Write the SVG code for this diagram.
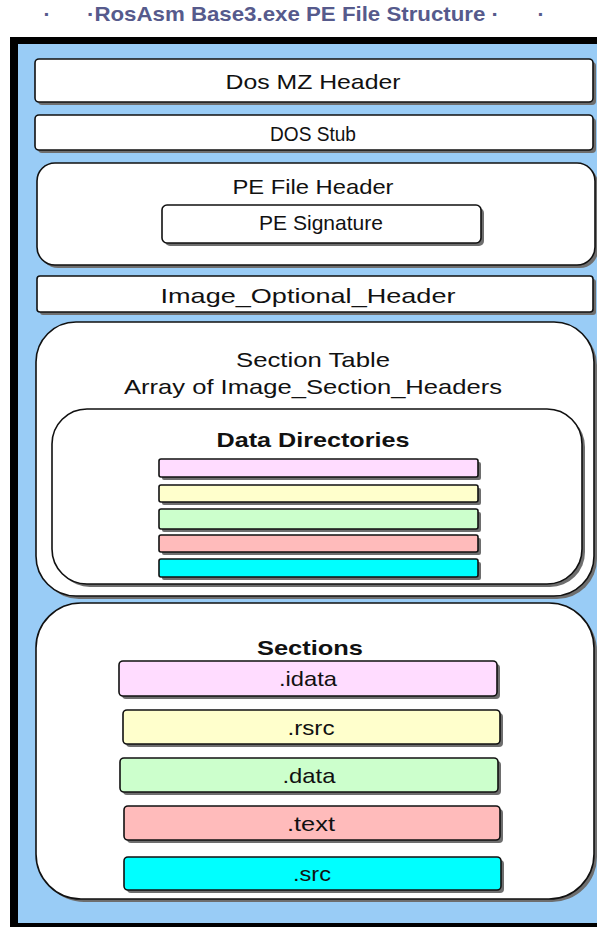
<svg xmlns="http://www.w3.org/2000/svg" width="597" height="927" viewBox="0 0 597 927">
<style>
.t{font-family:"Liberation Sans",Arial,sans-serif;font-size:21px;fill:#111;text-anchor:middle}
.b{font-weight:bold}
.box{fill:#fff;stroke:#111;stroke-width:1.6}
.sh{fill:#6e6e6e}
.bar{stroke:#111;stroke-width:1.6}
.ttl{font-family:"Liberation Sans",Arial,sans-serif;font-size:21px;font-weight:bold;fill:#565a8c;text-anchor:middle}
</style>
<rect width="597" height="927" fill="#fff"/>
<g id="title">
<text class="ttl" x="293" y="21" textLength="412" lengthAdjust="spacingAndGlyphs">·RosAsm Base3.exe PE File Structure ·</text>
<text class="ttl" x="47" y="21" font-weight="normal">·</text>
<text class="ttl" x="541" y="21" font-weight="normal">·</text>
</g>
<g id="frame">
<rect x="10" y="37" width="587" height="890" fill="#000"/>
<rect x="18" y="44" width="579" height="879" fill="#99ccf6"/>
</g>
<g id="dos-mz-header">
<rect class="sh" x="38" y="62" width="558" height="43" rx="4"/>
<rect class="box" x="35" y="59" width="558" height="43" rx="4"/>
<text class="t" x="313" y="89" textLength="175" lengthAdjust="spacingAndGlyphs">Dos MZ Header</text>
</g>
<g id="dos-stub">
<rect class="sh" x="38" y="118" width="558" height="35" rx="4"/>
<rect class="box" x="35" y="115" width="558" height="35" rx="4"/>
<text class="t" x="313" y="141" textLength="86" lengthAdjust="spacingAndGlyphs">DOS Stub</text>
</g>
<g id="pe-file-header">
<rect class="sh" x="40" y="166" width="558" height="102" rx="18"/>
<rect class="box" x="37" y="163" width="558" height="102" rx="18"/>
<text class="t" x="313" y="194" textLength="161" lengthAdjust="spacingAndGlyphs">PE File Header</text>
<g id="pe-signature">
<rect class="sh" x="165" y="208" width="319" height="38" rx="5"/>
<rect class="box" x="162" y="205" width="319" height="38" rx="5"/>
<text class="t" x="321" y="230" font-size="14" textLength="124" lengthAdjust="spacingAndGlyphs">PE Signature</text>
</g>
</g>
<g id="image-optional-header">
<rect class="sh" x="40" y="279" width="556" height="36" rx="3"/>
<rect class="box" x="37" y="276" width="556" height="36" rx="3"/>
<text class="t" x="308" y="303" textLength="295" lengthAdjust="spacingAndGlyphs">Image_Optional_Header</text>
</g>
<g id="section-table">
<rect class="sh" x="39" y="325" width="558" height="274" rx="40"/>
<rect class="box" x="36" y="322" width="558" height="274" rx="40"/>
<text class="t" x="313" y="367" textLength="154" lengthAdjust="spacingAndGlyphs">Section Table</text>
<text class="t" x="313" y="394" textLength="378" lengthAdjust="spacingAndGlyphs">Array of Image_Section_Headers</text>
<g id="data-directories">
<rect class="sh" x="55" y="412" width="530" height="175" rx="35"/>
<rect class="box" x="52" y="409" width="530" height="175" rx="35"/>
<text class="t b" x="313" y="447" textLength="193" lengthAdjust="spacingAndGlyphs">Data Directories</text>
<rect class="sh" x="162" y="462" width="319" height="18" rx="2"/>
<rect class="bar" x="159" y="459" width="319" height="18" rx="2" fill="#ffdcff"/>
<rect class="sh" x="162" y="488" width="319" height="17" rx="2"/>
<rect class="bar" x="159" y="485" width="319" height="17" rx="2" fill="#ffffcc"/>
<rect class="sh" x="162" y="512" width="319" height="20" rx="2"/>
<rect class="bar" x="159" y="509" width="319" height="20" rx="2" fill="#ccffcc"/>
<rect class="sh" x="162" y="538" width="319" height="17" rx="2"/>
<rect class="bar" x="159" y="535" width="319" height="17" rx="2" fill="#ffbbbb"/>
<rect class="sh" x="162" y="562" width="319" height="18" rx="2"/>
<rect class="bar" x="159" y="559" width="319" height="18" rx="2" fill="#00ffff"/>
</g>
</g>
<g id="sections">
<rect class="sh" x="39" y="606" width="558" height="296" rx="45"/>
<rect class="box" x="36" y="603" width="558" height="296" rx="45"/>
<text class="t b" x="310" y="655" textLength="106" lengthAdjust="spacingAndGlyphs">Sections</text>
<g id="idata">
<rect class="sh" x="122" y="664" width="378" height="35" rx="4"/>
<rect class="bar" x="119" y="661" width="378" height="35" rx="4" fill="#ffdcff"/>
<text class="t" x="308" y="686" textLength="58" lengthAdjust="spacingAndGlyphs">.idata</text>
</g>
<g id="rsrc">
<rect class="sh" x="126" y="713" width="377" height="34" rx="4"/>
<rect class="bar" x="123" y="710" width="377" height="34" rx="4" fill="#ffffcc"/>
<text class="t" x="311" y="735" textLength="47" lengthAdjust="spacingAndGlyphs">.rsrc</text>
</g>
<g id="data">
<rect class="sh" x="123" y="761" width="378" height="34" rx="4"/>
<rect class="bar" x="120" y="758" width="378" height="34" rx="4" fill="#ccffcc"/>
<text class="t" x="309" y="783" textLength="53" lengthAdjust="spacingAndGlyphs">.data</text>
</g>
<g id="text">
<rect class="sh" x="127" y="809" width="376" height="34" rx="4"/>
<rect class="bar" x="124" y="806" width="376" height="34" rx="4" fill="#ffbbbb"/>
<text class="t" x="311" y="831" textLength="48" lengthAdjust="spacingAndGlyphs">.text</text>
</g>
<g id="src">
<rect class="sh" x="127" y="860" width="377" height="33" rx="4"/>
<rect class="bar" x="124" y="857" width="377" height="33" rx="4" fill="#00ffff"/>
<text class="t" x="312" y="881" textLength="38" lengthAdjust="spacingAndGlyphs">.src</text>
</g>
</g>
</svg>
